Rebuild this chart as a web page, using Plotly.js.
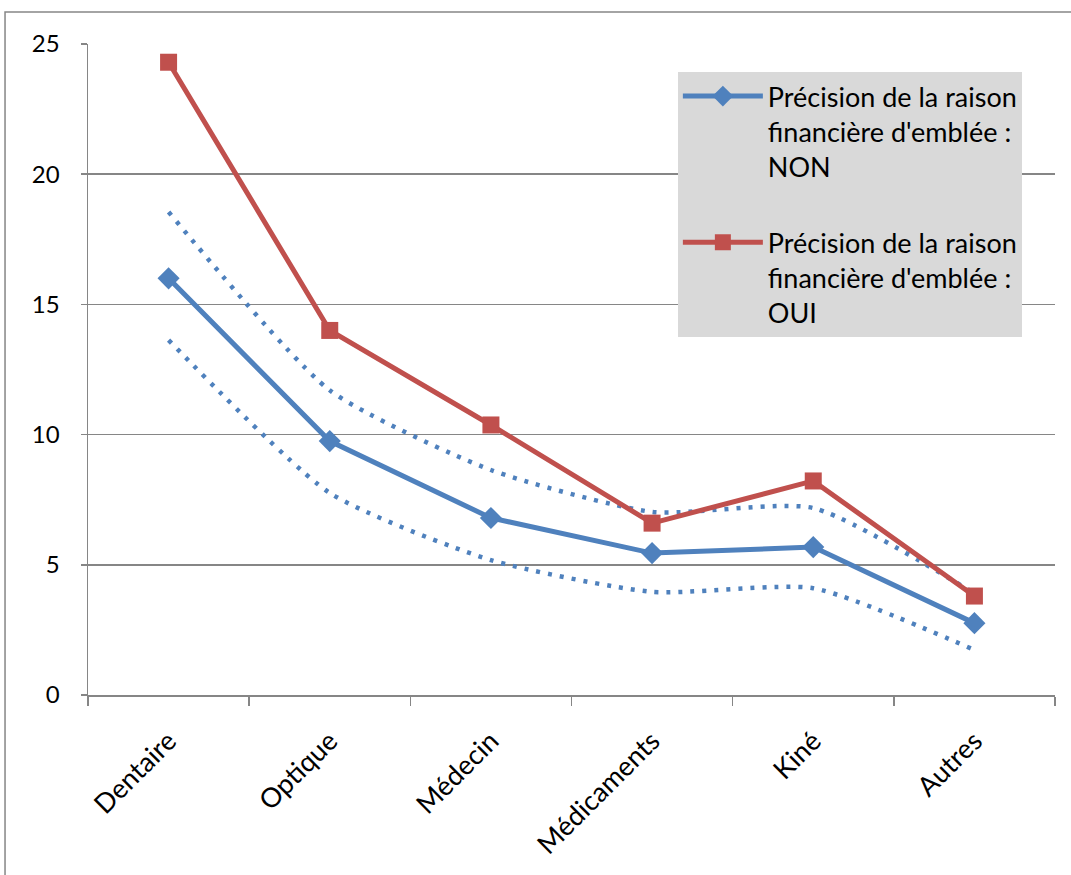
<!DOCTYPE html>
<html><head><meta charset="utf-8">
<script src="https://cdn.plot.ly/plotly-3.0.1.min.js"></script>
<style>html,body{margin:0;padding:0;background:#fff}#chart{width:1071px;height:875px}</style>
</head><body><div id="chart"></div>
<script>
const categories = ["Dentaire", "Optique", "Médecin", "Médicaments", "Kiné", "Autres"];
const nonValues = [16.0, 9.75, 6.8, 5.45, 5.68, 2.76];
const ouiValues = [24.3, 14.0, 10.37, 6.6, 8.22, 3.8];
const nonUpper = [18.55, 11.7, 8.64, 7.03, 7.18, 3.9];
const nonLower = [13.63, 7.76, 5.18, 3.96, 4.1, 1.73];
const yTicks = [0, 5, 10, 15, 20, 25];
const nameNon = "Précision de la raison<br>financière d'emblée :<br>NON";
const nameOui = "Précision de la raison<br>financière d'emblée :<br>OUI";

const blue = "#4f81bd", red = "#c0504d";
const F = "Lato, 'Liberation Sans', sans-serif";

const traces = [
  {x: categories, y: nonUpper, type: "scatter", mode: "lines", showlegend: false,
   line: {color: blue, width: 4.5, dash: "4px,8px", shape: "spline", smoothing: 0.6}, hoverinfo: "skip"},
  {x: categories, y: nonLower, type: "scatter", mode: "lines", showlegend: false,
   line: {color: blue, width: 4.5, dash: "4px,8px", shape: "spline", smoothing: 0.6}, hoverinfo: "skip"},
  {x: categories, y: nonValues, type: "scatter", mode: "lines+markers", name: nameNon, legendgroup: "a",
   line: {color: blue, width: 5}, marker: {symbol: "diamond", size: 17, color: blue}},
  {x: categories, y: ouiValues, type: "scatter", mode: "lines+markers", name: nameOui, legendgroup: "b",
   line: {color: red, width: 5}, marker: {symbol: "square", size: 17, color: red}}
];

const layout = {
  width: 1071, height: 875,
  margin: {l: 88, r: 16, t: 44, b: 180},
  paper_bgcolor: "#ffffff", plot_bgcolor: "#ffffff",
  font: {family: F, size: 24, color: "#000"},
  xaxis: {
    type: "category", categoryorder: "array", categoryarray: categories,
    tickangle: -45, tickson: "boundaries", ticks: "outside", ticklen: 9, tickcolor: "#868686", tickwidth: 1.5,
    showline: true, linecolor: "#868686", linewidth: 1.5, showgrid: false,
    ticklabelstandoff: 18,
    tickfont: {family: F, size: 27, color: "#000"}, range: [-0.5, 5.5], fixedrange: true
  },
  yaxis: {
    range: [0, 25], tickvals: yTicks, ticktext: yTicks.map(String),
    ticks: "outside", ticklen: 6, tickcolor: "#868686", tickwidth: 1.5,
    showline: true, linecolor: "#868686", linewidth: 1.5,
    showgrid: true, gridcolor: "#868686", gridwidth: 1.5, zeroline: false,
    ticklabelstandoff: 16,
    tickfont: {family: F, size: 24, color: "#000"}, fixedrange: true
  },
  showlegend: true,
  legend: {
    x: 0.61, y: 0.957, xanchor: "left", yanchor: "top",
    bgcolor: "#d9d9d9", borderwidth: 0,
    font: {family: F, size: 27, color: "#000"},
    traceorder: "grouped", tracegroupgap: 38, itemwidth: 80,
    valign: "top"
  },
  shapes: [
    {type: "rect", xref: "paper", yref: "paper", x0: -0.0858, x1: 1.2, y0: -0.5, y1: 1.049,
     line: {color: "#868686", width: 1.5}, fillcolor: "rgba(0,0,0,0)", layer: "below"}
  ]
};

Plotly.newPlot("chart", traces, layout, {displayModeBar: false, staticPlot: true});
</script>
</body></html>
